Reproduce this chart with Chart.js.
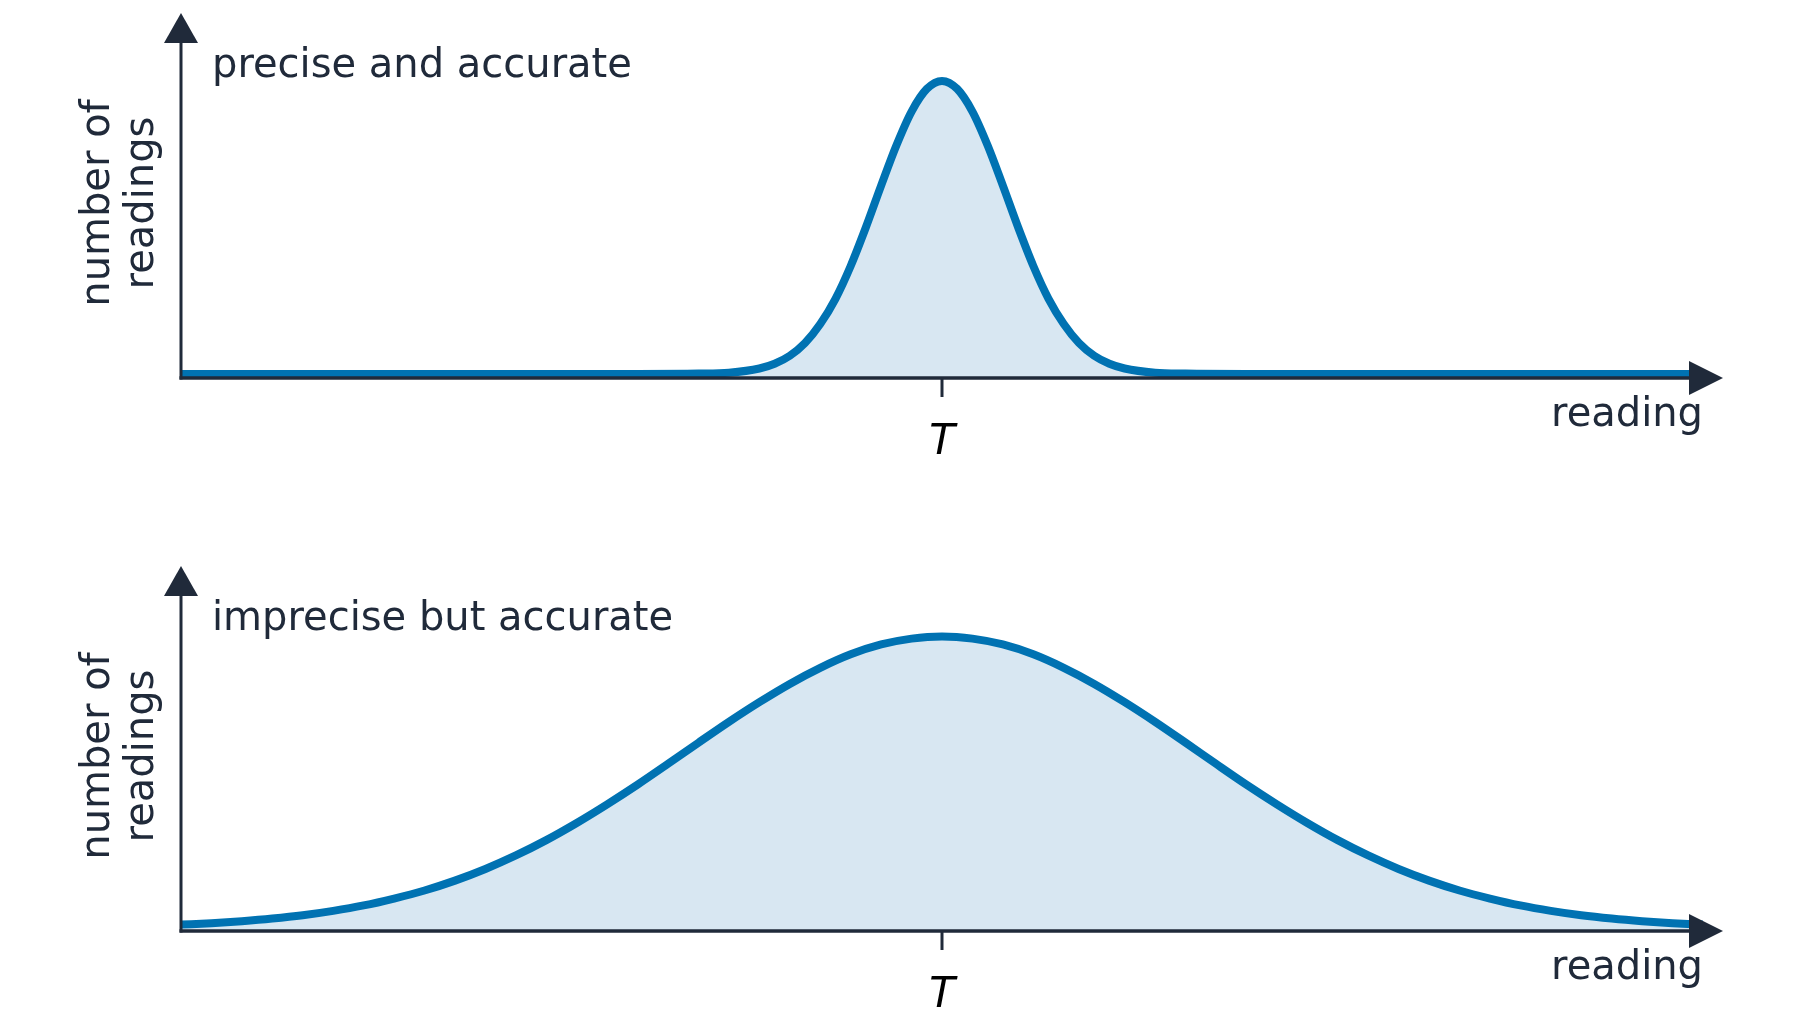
<!DOCTYPE html>
<html>
<head>
<meta charset="utf-8">
<script src="https://cdn.jsdelivr.net/npm/chart.js@4.4.1/dist/chart.umd.min.js"></script>
<style>
  body { margin: 0; background: #fff; }
  .panel { position: absolute; left: 0; width: 1800px; }
  #p1 { top: 0; height: 553px; }
  #p2 { top: 553px; height: 478px; }
</style>
</head>
<body>
<div class="panel" id="p1"><canvas id="preciseChart"></canvas></div>
<div class="panel" id="p2"><canvas id="impreciseChart"></canvas></div>
<script>
// readings (x, 0-100, T = 50) and number of readings (y, 0-100)
const preciseX = [0, 10, 20, 30, 34, 36, 38, 39, 40, 41, 42, 43, 44, 45, 46, 47, 48, 49, 50,
    51, 52, 53, 54, 55, 56, 57, 58, 59, 60, 61, 62, 64, 66, 70, 80, 90, 100];
const preciseY = [1.1, 1.1, 1.1, 1.1, 1.2, 1.45, 2.6, 3.9, 6.1, 9.6, 14.8, 21.7, 30.7, 41.3, 52.7, 63.7, 73.0, 79.2, 81.4,
    79.2, 73.0, 63.7, 52.7, 41.3, 30.7, 21.7, 14.8, 9.6, 6.1, 3.9, 2.6, 1.45, 1.2, 1.1, 1.1, 1.1, 1.1];

const impreciseX = [0, 2, 4, 6, 8, 10, 12, 14, 16, 18, 20, 22, 24, 26, 28, 30, 32, 34, 36, 38, 40, 42, 44, 46, 48, 50,
    52, 54, 56, 58, 60, 62, 64, 66, 68, 70, 72, 74, 76, 78, 80, 82, 84, 86, 88, 90, 92, 94, 96, 98, 100];
const impreciseY = [1.75, 2.15, 2.7, 3.4, 4.3, 5.5, 7.0, 8.9, 11.1, 13.8, 17.0, 20.7, 24.9, 29.6, 34.7, 40.1, 45.8, 51.6,
    57.3, 62.7, 67.7, 72.1, 75.8, 78.5, 80.1, 80.7, 80.1, 78.5, 75.8, 72.1, 67.7, 62.7, 57.3, 51.6, 45.8, 40.1, 34.7,
    29.6, 24.9, 20.7, 17.0, 13.8, 11.1, 8.9, 7.0, 5.5, 4.3, 3.4, 2.7, 2.15, 1.75];

const targetValue = 50;
const targetLabel = 'T';
const xTitle = 'reading';
const yTitle = ['number of', 'readings'];

const ink = '#202a3a';
const lineBlue = 'rgb(0, 114, 178)';
const fillBlue = 'rgb(216, 231, 242)';
const font = '"DejaVu Sans", sans-serif';

// axes with arrow heads, tick at T, labels
const axesPlugin = {
    id: 'axesPlugin',
    afterDatasetsDraw(chart, args, opts) {
        const ctx = chart.ctx;
        const a = chart.chartArea;
        const xs = chart.scales.x;
        const tipX = a.right + 20;
        ctx.save();
        ctx.strokeStyle = ink;
        ctx.fillStyle = ink;
        ctx.lineWidth = 3.5;
        // x axis
        ctx.beginPath();
        ctx.moveTo(a.left - 1.5, a.bottom);
        ctx.lineTo(tipX - 20, a.bottom);
        ctx.stroke();
        ctx.beginPath();
        ctx.moveTo(tipX, a.bottom);
        ctx.lineTo(tipX - 34, a.bottom - 17);
        ctx.lineTo(tipX - 34, a.bottom + 17);
        ctx.closePath();
        ctx.fill();
        // y axis
        ctx.lineWidth = 3;
        ctx.beginPath();
        ctx.moveTo(a.left, a.bottom + 1.5);
        ctx.lineTo(a.left, a.top + 20);
        ctx.stroke();
        ctx.beginPath();
        ctx.moveTo(a.left, a.top);
        ctx.lineTo(a.left - 17, a.top + 30);
        ctx.lineTo(a.left + 17, a.top + 30);
        ctx.closePath();
        ctx.fill();
        // tick at T
        const tx = xs.getPixelForValue(targetValue);
        ctx.lineWidth = 3;
        ctx.beginPath();
        ctx.moveTo(tx, a.bottom);
        ctx.lineTo(tx, a.bottom + 19);
        ctx.stroke();
        ctx.fillStyle = '#000';
        ctx.font = 'italic 42px ' + font;
        ctx.textAlign = 'center';
        ctx.textBaseline = 'middle';
        ctx.fillText(targetLabel, tx, a.bottom + 65);
        // x title
        ctx.fillStyle = ink;
        ctx.font = '40px ' + font;
        ctx.textAlign = 'right';
        ctx.textBaseline = 'alphabetic';
        ctx.fillText(xTitle, a.right, a.bottom + 48);
        // panel label
        ctx.textAlign = 'left';
        ctx.fillText(opts.label, a.left + 31, a.top + 64);
        // y title
        ctx.translate(a.left - 60, a.top + 190);
        ctx.rotate(-Math.PI / 2);
        ctx.textAlign = 'center';
        ctx.textBaseline = 'middle';
        ctx.fillText(yTitle[0], 0, -22);
        ctx.fillText(yTitle[1], 0, 22);
        ctx.restore();
    }
};

function makeChart(id, xs, ys, label, bottomPad) {
    return new Chart(document.getElementById(id), {
        type: 'line',
        data: {
            datasets: [{
                data: xs.map((x, i) => ({ x: x, y: ys[i] })),
                borderColor: lineBlue,
                backgroundColor: fillBlue,
                borderWidth: 8,
                fill: 'origin',
                pointRadius: 0,
                cubicInterpolationMode: 'monotone',
                borderCapStyle: 'round'
            }]
        },
        options: {
            responsive: true,
            maintainAspectRatio: false,
            animation: false,
            layout: { padding: { left: 181, right: 97, top: 13, bottom: bottomPad } },
            scales: {
                x: { type: 'linear', min: 0, max: 100, display: false },
                y: { min: 0, max: 100, display: false }
            },
            plugins: {
                legend: { display: false },
                tooltip: { enabled: false },
                axesPlugin: { label: label }
            }
        },
        plugins: [axesPlugin]
    });
}

// bottom padding so that the x axis sits at y = 378 in each panel
makeChart('preciseChart', preciseX, preciseY, 'precise and accurate', 553 - 378);
makeChart('impreciseChart', impreciseX, impreciseY, 'imprecise but accurate', 478 - 378);
</script>
</body>
</html>
